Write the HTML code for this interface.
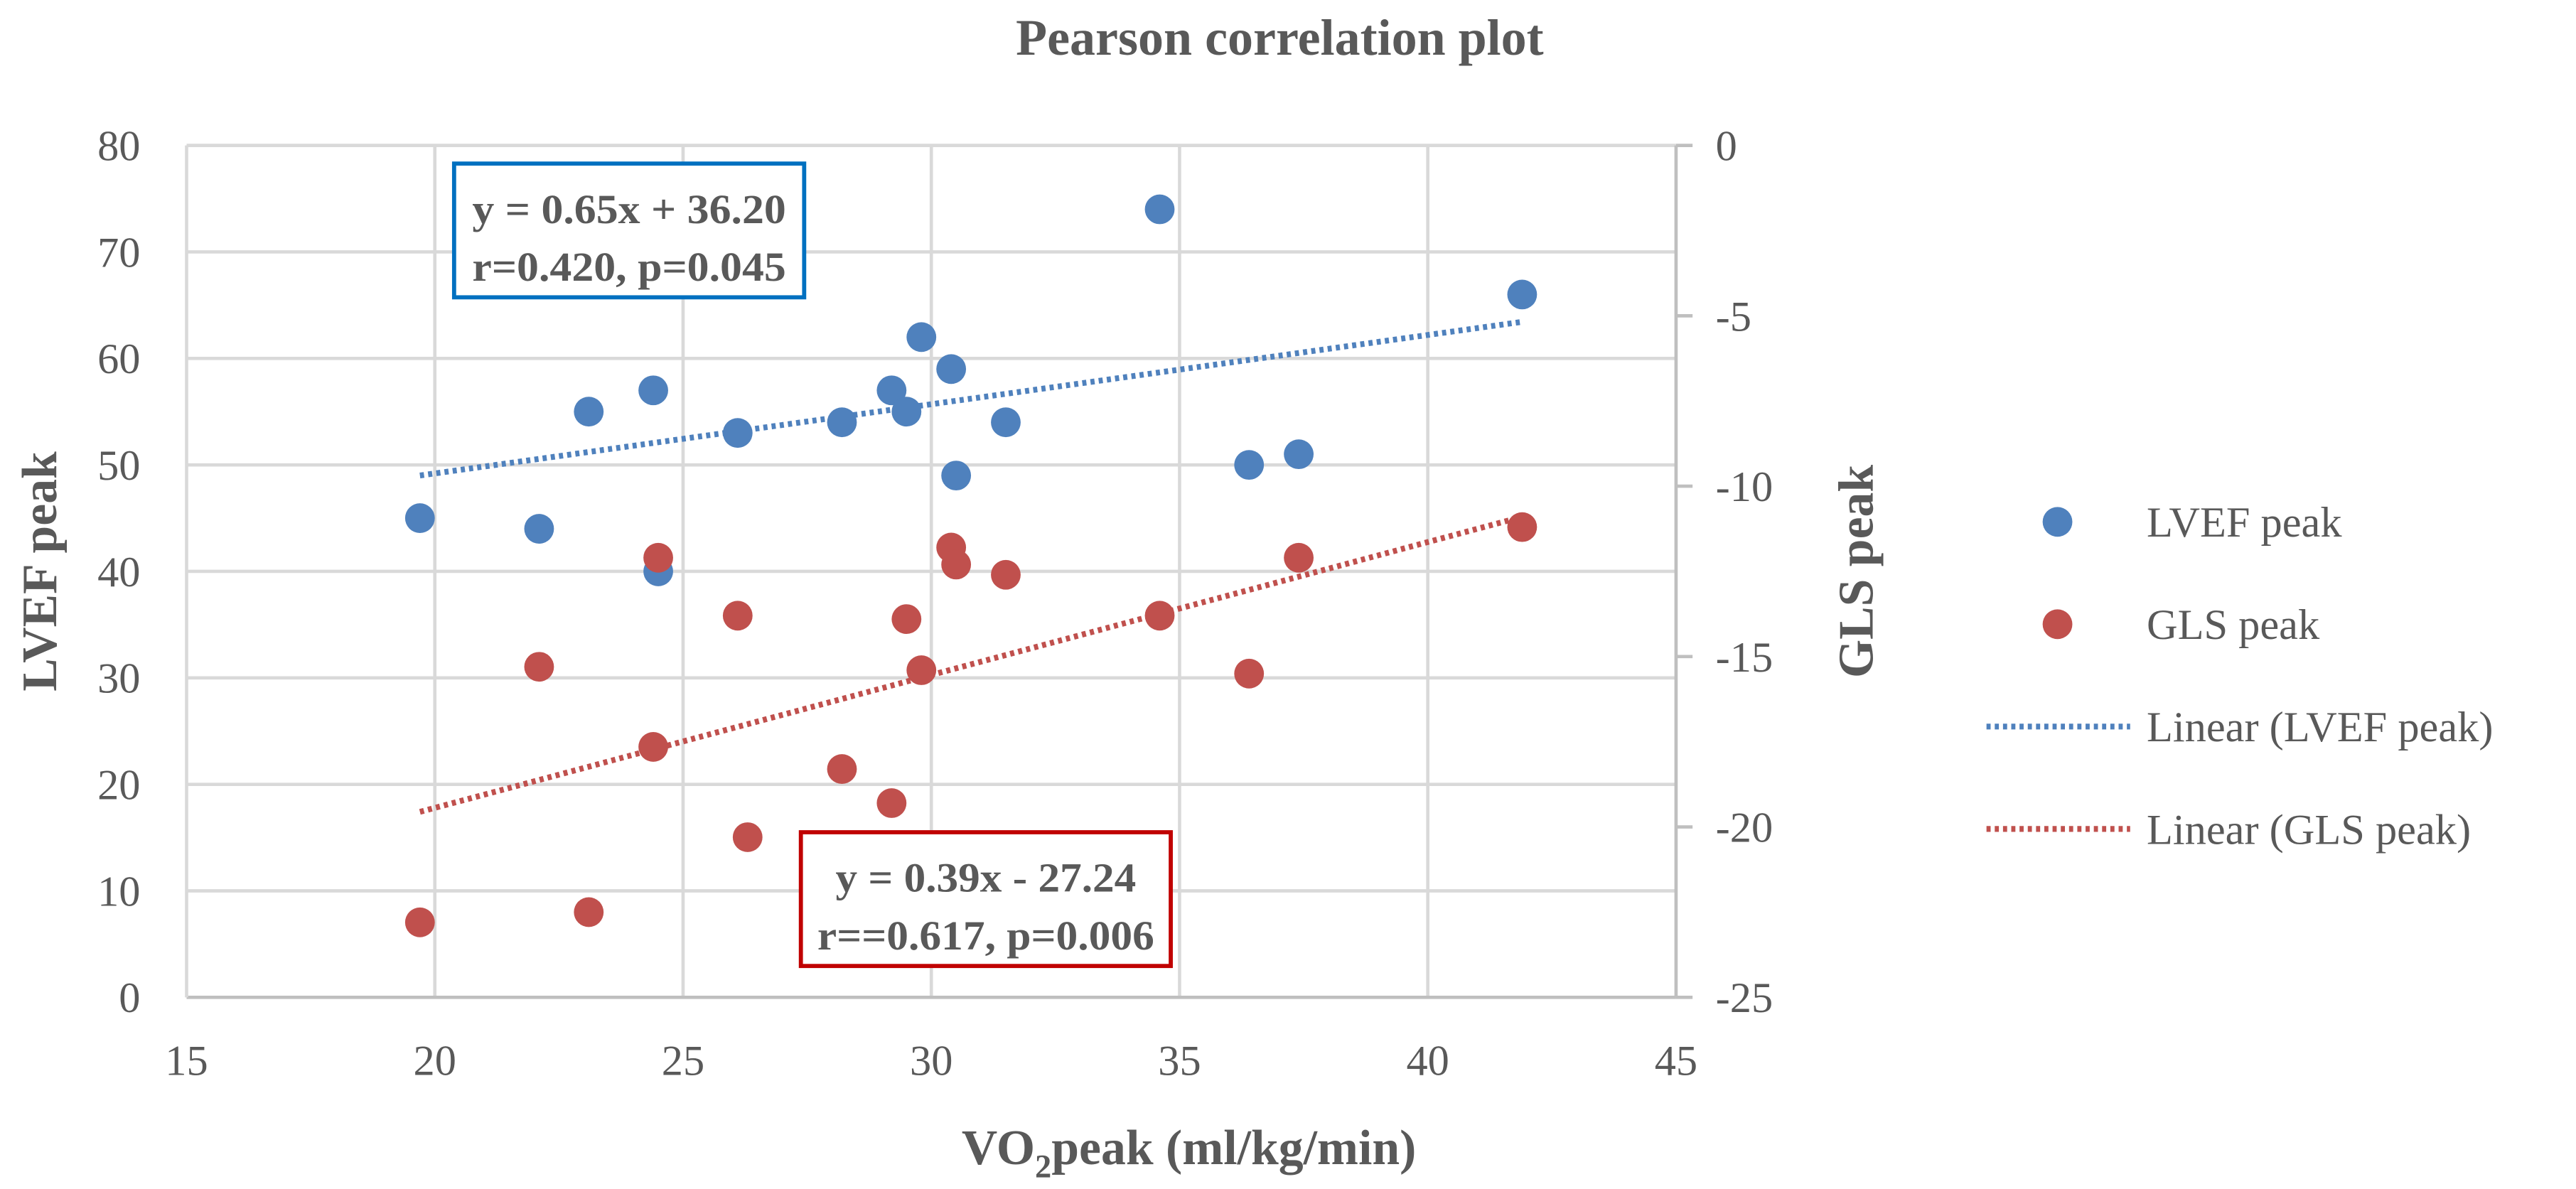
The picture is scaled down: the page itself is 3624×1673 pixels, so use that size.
<!DOCTYPE html>
<html><head><meta charset="utf-8"><style>
html,body{margin:0;padding:0;background:#fff}
svg{display:block;font-family:"Liberation Serif",serif}
</style></head><body>
<svg id="chart" width="3624" height="1673" viewBox="0 0 1560 720" xmlns="http://www.w3.org/2000/svg">
<text x="775" y="33" text-anchor="middle" font-size="31" font-weight="bold" fill="#595959">Pearson correlation plot</text>
<g id="grid"></g><g id="axes"></g><g id="trend"></g><g id="pts"></g>
<g>
<rect x="275" y="99" width="212" height="81" fill="#fff" stroke="#0070c0" stroke-width="2.5"/>
<text x="381" y="135" text-anchor="middle" font-size="25" font-weight="bold" fill="#595959" textLength="190" lengthAdjust="spacingAndGlyphs">y = 0.65x + 36.20</text>
<text x="381" y="170" text-anchor="middle" font-size="25" font-weight="bold" fill="#595959" textLength="190" lengthAdjust="spacingAndGlyphs">r=0.420, p=0.045</text>
</g>
<g>
<rect x="485" y="504" width="224" height="81" fill="#fff" stroke="#c00000" stroke-width="2.5"/>
<text x="597" y="540" text-anchor="middle" font-size="25" font-weight="bold" fill="#595959" textLength="182" lengthAdjust="spacingAndGlyphs">y = 0.39x - 27.24</text>
<text x="597" y="575" text-anchor="middle" font-size="25" font-weight="bold" fill="#595959" textLength="204" lengthAdjust="spacingAndGlyphs">r==0.617, p=0.006</text>
</g>
<text x="720" y="705" text-anchor="middle" font-size="30" font-weight="bold" fill="#595959">VO<tspan font-size="20" dy="8">2</tspan><tspan dy="-8">peak (ml/kg/min)</tspan></text>
<text transform="translate(34,346) rotate(-90)" text-anchor="middle" font-size="30" font-weight="bold" fill="#595959">LVEF peak</text>
<text transform="translate(1134,346) rotate(-90)" text-anchor="middle" font-size="30" font-weight="bold" fill="#595959">GLS peak</text>
<g font-size="26" fill="#595959">
<g><circle cx="1246" cy="316" r="9" fill="#4f81bd"/><text x="1300" y="325">LVEF peak</text></g>
<g><circle cx="1246" cy="378" r="9" fill="#c0504d"/><text x="1300" y="387">GLS peak</text></g>
<g><line x1="1203" y1="440" x2="1290" y2="440" stroke="#4f81bd" stroke-width="3.5" stroke-dasharray="2.5 2.5"/><text x="1300" y="449">Linear (LVEF peak)</text></g>
<g><line x1="1203" y1="502" x2="1290" y2="502" stroke="#c0504d" stroke-width="3.5" stroke-dasharray="2.5 2.5"/><text x="1300" y="511">Linear (GLS peak)</text></g>
</g>
</svg>
<script>
const xTicks=[15,20,25,30,35,40,45];
const yLeftTicks=[0,10,20,30,40,50,60,70,80];
const yRightTicks=[0,-5,-10,-15,-20,-25];
const vo2=[19.7,22.1,23.1,24.4,24.5,26.1,28.2,29.2,29.5,29.8,30.4,30.5,31.5,34.6,36.4,37.4,41.9];
const lvef=[45,44,55,57,40,53,54,57,55,62,59,49,54,74,50,51,66];
const glsX=[19.7,22.1,23.1,24.4,24.5,26.1,26.3,28.2,29.2,29.5,29.8,30.4,30.5,31.5,34.6,36.4,37.4,41.9];
const gls=[-22.8,-15.3,-22.5,-17.65,-12.1,-13.8,-20.3,-18.3,-19.3,-13.9,-15.4,-11.8,-12.3,-12.6,-13.8,-15.5,-12.1,-11.2];
const trendSlope=[0.65,0.39];
const trendIntercept=[36.2,-27.24];
const trendRange=[19.7,41.9];

const NS="http://www.w3.org/2000/svg";
const L=113,R=1015,T=88,B=604;
const xs=v=>L+(v-15)/30*(R-L);
const yl=v=>B-v/80*(B-T);
const yr=v=>B-(v+25)/25*(B-T);
function mk(parent,tag,attrs){const e=document.createElementNS(NS,tag);for(const k in attrs)e.setAttribute(k,attrs[k]);document.getElementById(parent).appendChild(e);return e;}
xTicks.forEach(t=>{
 if(t>15&&t<45){const g=mk('grid','line',{x1:xs(t),x2:xs(t),y1:T,y2:B,stroke:'#d9d9d9','stroke-width':2});
 
 }
 const tx=mk('axes','text',{x:xs(t),y:B+47,'text-anchor':'middle','font-size':26,fill:'#595959'});tx.textContent=t;
 
 
});
yLeftTicks.forEach(t=>{
 if(t>0){const g=mk('grid','line',{x1:L,x2:R,y1:yl(t),y2:yl(t),stroke:'#d9d9d9','stroke-width':2});
 
 }
 const tx=mk('axes','text',{x:L-28,y:yl(t)+9,'text-anchor':'end','font-size':26,fill:'#595959'});tx.textContent=t;
 
 
});
yRightTicks.forEach(t=>{
 const tk=mk('axes','line',{x1:R,x2:R+10,y1:yr(t),y2:yr(t),stroke:'#bfbfbf','stroke-width':2});
 
 
 const tx=mk('axes','text',{x:R+24,y:yr(t)+9,'text-anchor':'start','font-size':26,fill:'#595959'});tx.textContent=t;
 
 
});
const xa=mk('axes','line',{x1:L,x2:R,y1:B,y2:B,stroke:'#bfbfbf','stroke-width':2});


const la=mk('axes','line',{x1:L,x2:L,y1:T,y2:B,stroke:'#d9d9d9','stroke-width':2});


const ra=mk('axes','line',{x1:R,x2:R,y1:T,y2:B,stroke:'#bfbfbf','stroke-width':2});


const t1=mk('trend','line',{x1:xs(trendRange[0]),x2:xs(trendRange[1]),y1:yl(trendSlope[0]*trendRange[0]+trendIntercept[0]),y2:yl(trendSlope[0]*trendRange[1]+trendIntercept[0]),stroke:'#4f81bd','stroke-width':3.5,'stroke-dasharray':'2.5 2.5'});


const t2=mk('trend','line',{x1:xs(trendRange[0]),x2:xs(trendRange[1]),y1:yr(trendSlope[1]*trendRange[0]+trendIntercept[1]),y2:yr(trendSlope[1]*trendRange[1]+trendIntercept[1]),stroke:'#c0504d','stroke-width':3.5,'stroke-dasharray':'2.5 2.5'});


vo2.forEach((x,i)=>{
 const c=mk('pts','circle',{cx:xs(x),cy:yl(lvef[i]),r:9,fill:'#4f81bd'});
 
 
});
glsX.forEach((x,i)=>{
 const c=mk('pts','circle',{cx:xs(x),cy:yr(gls[i]),r:9,fill:'#c0504d'});
 
 
});
</script>
</body></html>
